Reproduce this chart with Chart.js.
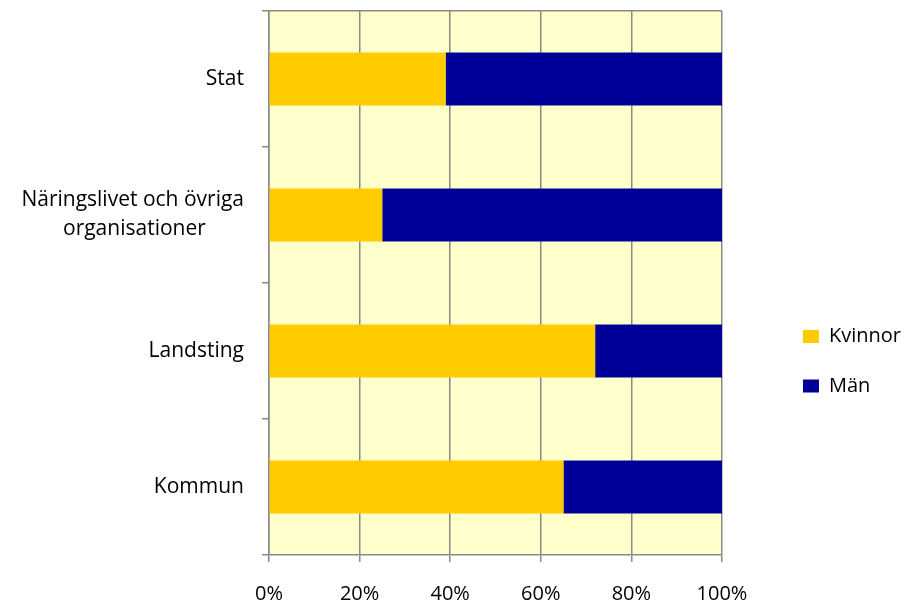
<!DOCTYPE html>
<html lang="sv">
<head>
<meta charset="utf-8">
<title>Kvinnor och män</title>
<script src="https://cdn.jsdelivr.net/npm/chart.js@4.4.1/dist/chart.umd.min.js"></script>
<style>
    body { margin: 0; background: #fff; }
    #wrap { width: 908px; height: 604px; }
</style>
</head>
<body>
<div id="wrap"><canvas id="genderChart" width="908" height="604"></canvas></div>
<script>
// Andel kvinnor och män per sektor (procent)
const categories = ['Stat', ['Näringslivet och övriga', 'organisationer'], 'Landsting', 'Kommun'];
const kvinnor = [39, 25, 72, 65];
const man = [61, 75, 28, 35];
const xTicks = [0, 20, 40, 60, 80, 100];

const FONT = '"Open Sans"';
const gridGray = '#8a8a8a';

// Excel centers the lines of a wrapped label, Chart.js right-aligns them
function centerLines(lines, size) {
    const ctx = document.createElement('canvas').getContext('2d');
    ctx.font = size + 'px ' + FONT;
    const widths = lines.map(l => ctx.measureText(l).width);
    const widest = Math.max(...widths);
    const space = ctx.measureText('\u00a0').width;
    return lines.map((l, i) => l + '\u00a0'.repeat(Math.round((widest - widths[i]) / 2 / space)));
}

const labels = categories.map(c => Array.isArray(c) ? centerLines(c, 21) : c);

// Pale yellow plot background
const plotBackground = {
    id: 'plotBackground',
    beforeDraw(chart) {
        const { ctx, chartArea } = chart;
        ctx.save();
        ctx.fillStyle = '#ffffcc';
        ctx.fillRect(chartArea.left, chartArea.top, chartArea.right - chartArea.left, chartArea.bottom - chartArea.top);
        ctx.restore();
    }
};

new Chart(document.getElementById('genderChart'), {
    type: 'bar',
    data: {
        labels: labels,
        datasets: [
            { label: 'Kvinnor', data: kvinnor, backgroundColor: '#ffcc00' },
            { label: 'Män', data: man, backgroundColor: '#000099' }
        ]
    },
    options: {
        indexAxis: 'y',
        responsive: false,
        maintainAspectRatio: false,
        devicePixelRatio: 1,
        animation: false,
        categoryPercentage: 1,
        barPercentage: 0.39,
        layout: { padding: { top: 11, right: -3, bottom: 0, left: 0 } },
        scales: {
            x: {
                stacked: true,
                min: 0,
                max: 100,
                afterBuildTicks(scale) {
                    scale.ticks = xTicks.map(v => ({ value: v }));
                },
                afterFit(scale) {
                    scale.height = 49;
                },
                ticks: {
                    callback: v => v + '%',
                    color: '#000',
                    padding: 20,
                    font: { family: FONT, size: 20 }
                },
                grid: { color: gridGray, lineWidth: 1.5, tickLength: 7 },
                border: { color: gridGray, width: 1.5 }
            },
            y: {
                stacked: true,
                afterFit(scale) {
                    scale.width = 269;
                    scale.paddingTop = 0;
                    scale.paddingBottom = 0;
                },
                ticks: {
                    color: '#000',
                    padding: 18,
                    font: { family: FONT, size: 21, lineHeight: 1.38 }
                },
                grid: {
                    offset: true,
                    lineWidth: 1.5,
                    tickLength: 7,
                    tickColor: gridGray,
                    // only the top edge of the plot gets a line
                    color: ctx => ctx.index === 0 ? gridGray : 'rgba(0,0,0,0)'
                },
                border: { color: gridGray, width: 1.5 }
            }
        },
        plugins: {
            tooltip: { enabled: false },
            // empty title used as a spacer between plot and legend
            title: {
                display: true,
                position: 'right',
                text: ' ',
                weight: 500,
                font: { size: 10 },
                padding: { top: 39.5, bottom: 0 }
            },
            legend: {
                position: 'right',
                align: 'start',
                title: {
                    display: true,
                    text: ' ',
                    font: { size: 10 },
                    padding: { top: 274, bottom: 0 }
                },
                labels: {
                    boxWidth: 16,
                    boxHeight: 13,
                    padding: 29.5,
                    color: '#000',
                    font: { family: FONT, size: 20 }
                }
            }
        }
    },
    plugins: [plotBackground]
});
</script>
</body>
</html>
